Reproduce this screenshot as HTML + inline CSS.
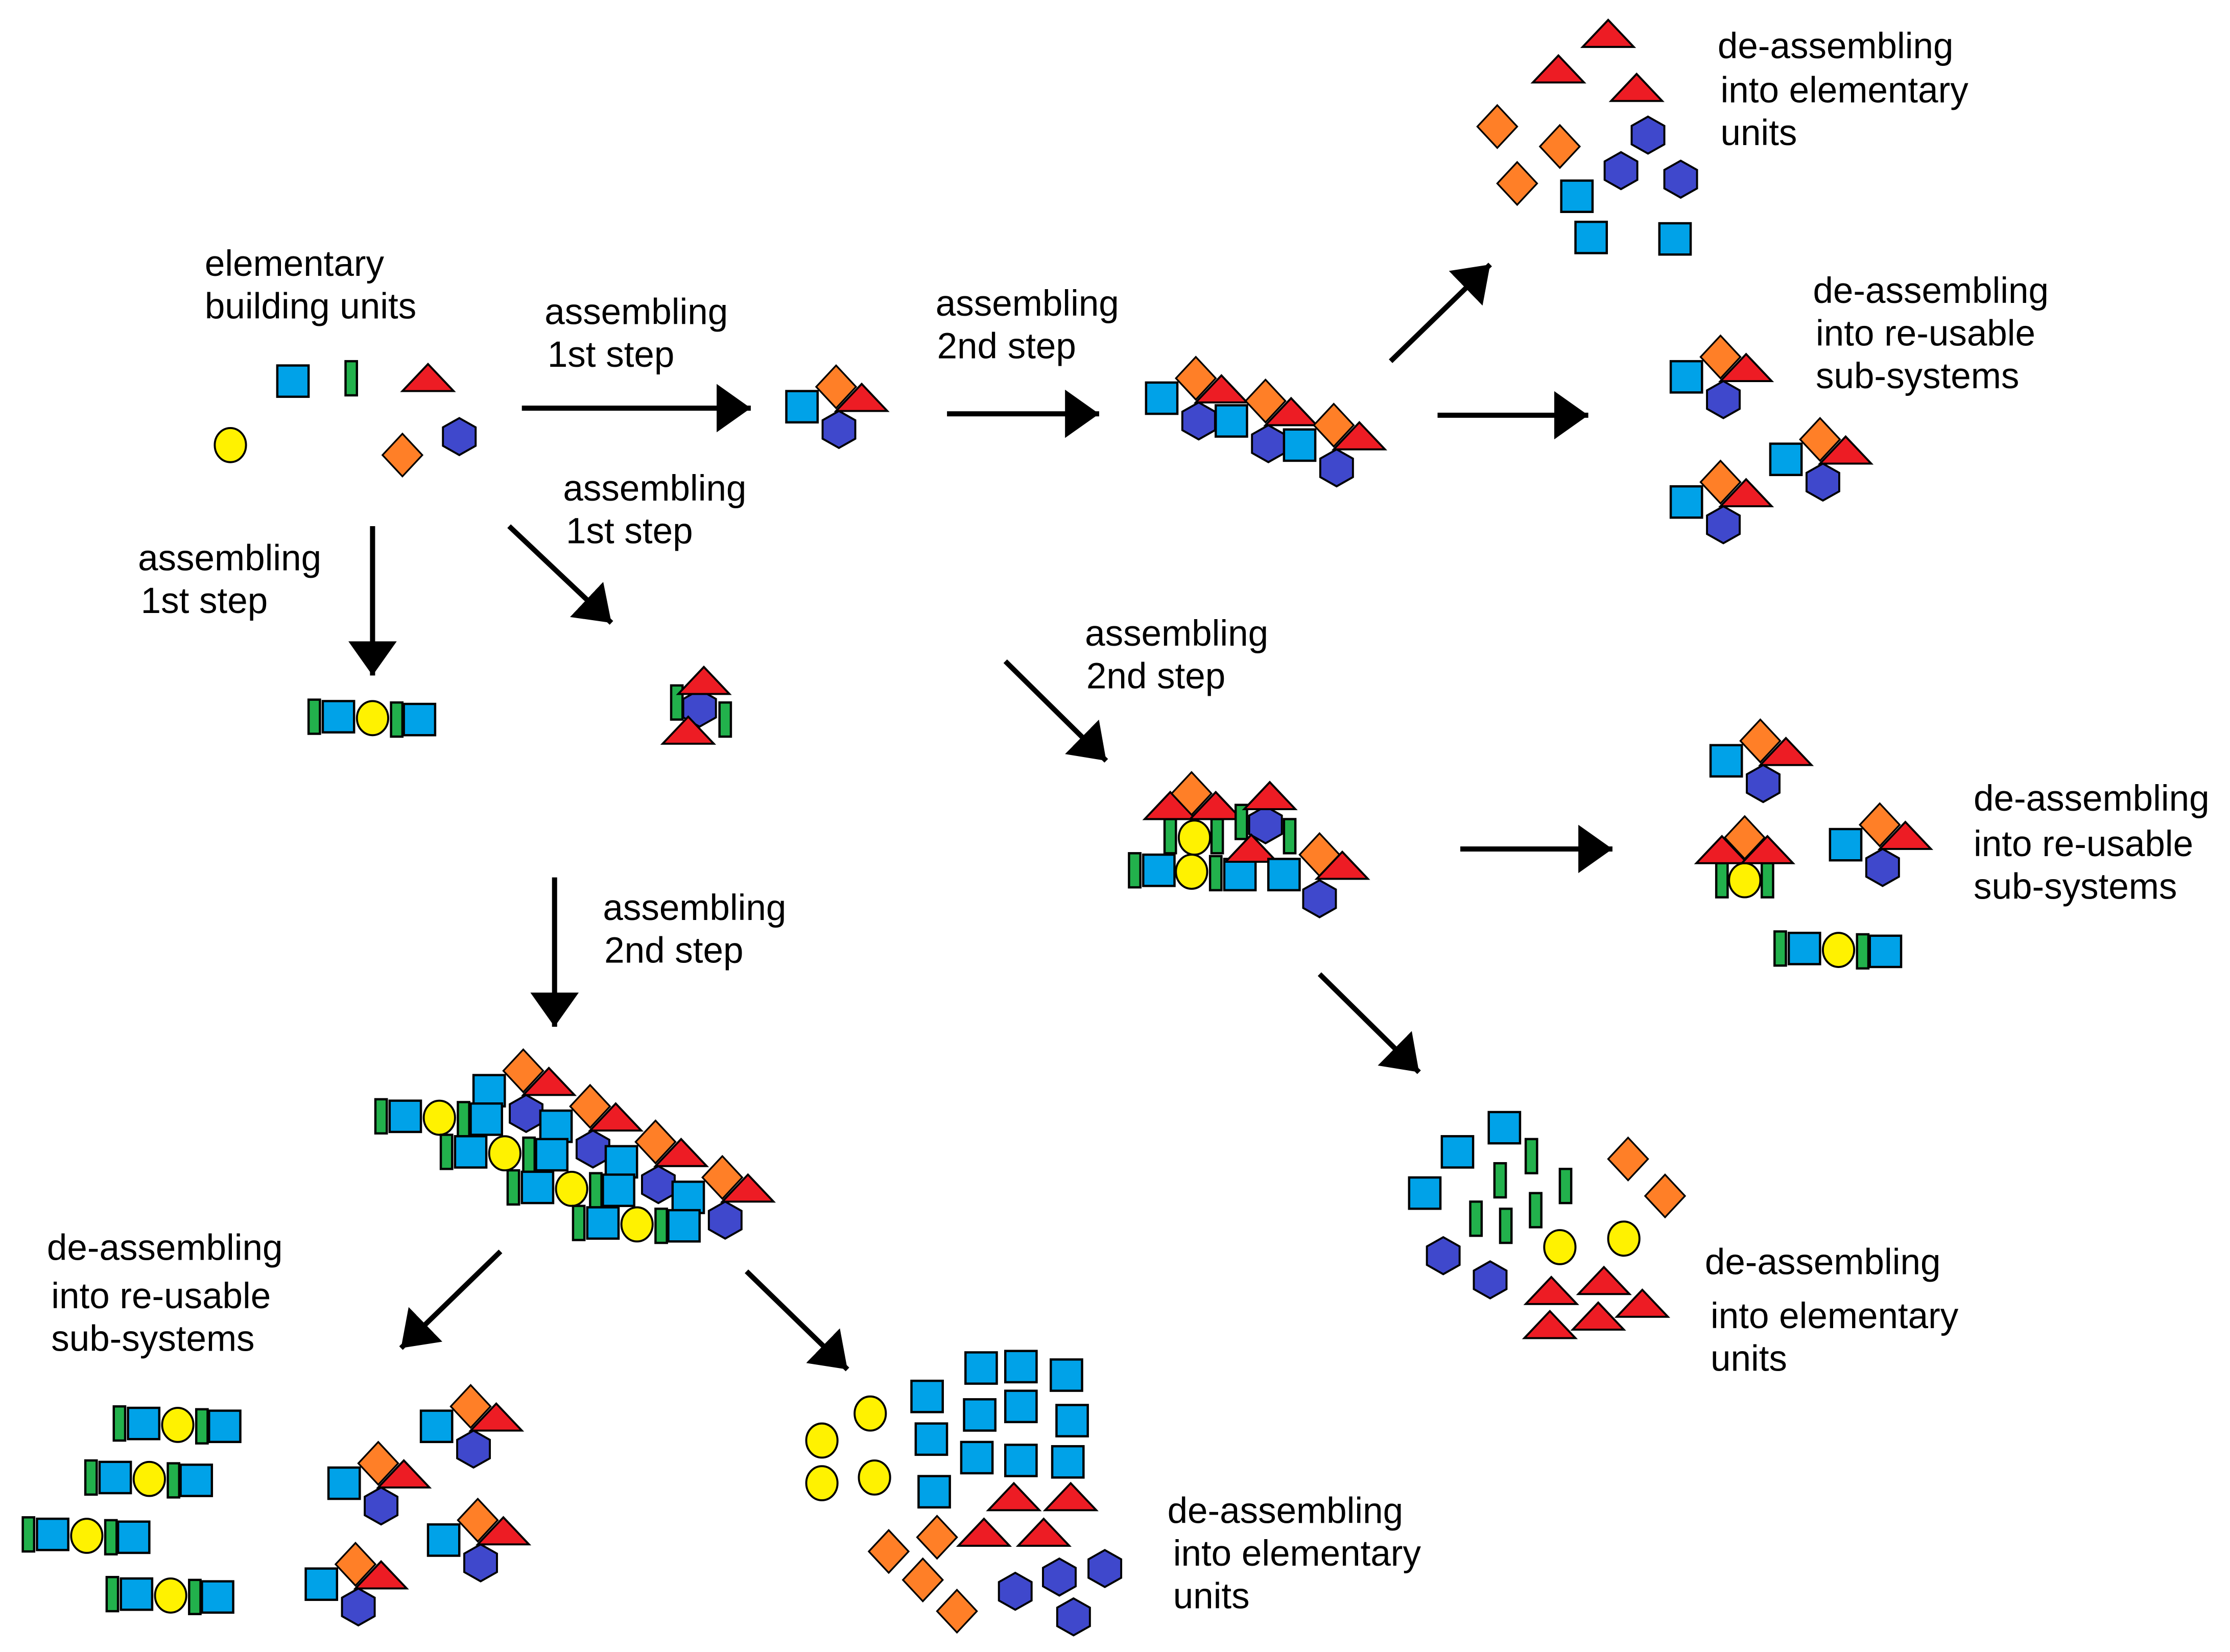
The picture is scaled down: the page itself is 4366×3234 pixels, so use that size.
<!DOCTYPE html>
<html><head><meta charset="utf-8"><style>
html,body{margin:0;padding:0;background:#fff;}
svg{display:block;}
text{font-family:"Liberation Sans",Arial,sans-serif;font-size:25.5px;fill:#000;}
</style></head><body>
<svg width="4366" height="3234" viewBox="0 0 1568.3 1161.7" xmlns="http://www.w3.org/2000/svg">
<defs>
<g id="sq"><rect x="-11" y="-11" width="22" height="22" fill="#00a2e8" stroke="#000" stroke-width="1.6"/></g>
<g id="bar"><rect x="-4" y="-12" width="8" height="24" fill="#22b14c" stroke="#000" stroke-width="1.6"/></g>
<g id="tri"><polygon points="-18,9 18,9 0,-10" fill="#ed1c24" stroke="#000" stroke-width="1.4"/></g>
<g id="dia"><polygon points="0,-15 14,0 0,15 -14,0" fill="#ff7f27" stroke="#000" stroke-width="1.2"/></g>
<g id="hex"><polygon points="0,-13 11.5,-6.5 11.5,6.5 0,13 -11.5,6.5 -11.5,-6.5" fill="#3f48cc" stroke="#000" stroke-width="1.4"/></g>
<g id="circ"><ellipse cx="0" cy="0" rx="11" ry="12" fill="#fff200" stroke="#000" stroke-width="1.4"/></g>
<g id="A"><use href="#sq" x="-24" y="14"/><use href="#hex" x="2" y="30"/><use href="#dia" x="0" y="0"/><use href="#tri" x="18" y="8"/></g>
<g id="B"><use href="#bar" x="-41" y="-1"/><use href="#sq" x="-24" y="-1"/><use href="#circ" x="0" y="0"/><use href="#bar" x="17" y="1"/><use href="#sq" x="33" y="1"/></g>
<marker id="ah" markerUnits="userSpaceOnUse" markerWidth="30" markerHeight="40" refX="24" refY="17" orient="auto"><path d="M0,0 L24,17 L0,34 Z" fill="#000"/></marker>
</defs>

<g stroke="#000" stroke-width="3.6" fill="none" marker-end="url(#ah)">
<line x1="367" y1="287" x2="528" y2="287"/>
<line x1="262" y1="370" x2="262" y2="475"/>
<line x1="358" y1="370" x2="430" y2="438"/>
<line x1="666" y1="291" x2="773" y2="291"/>
<line x1="978" y1="254" x2="1048" y2="186"/>
<line x1="1011" y1="292" x2="1117" y2="292"/>
<line x1="707" y1="465" x2="778" y2="535"/>
<line x1="1027" y1="597" x2="1134" y2="597"/>
<line x1="928" y1="685" x2="998" y2="754"/>
<line x1="390" y1="617" x2="390" y2="722"/>
<line x1="352" y1="880" x2="282" y2="948"/>
<line x1="525" y1="894" x2="596" y2="963"/>
</g>

<text x="144" y="194">elementary</text><text x="144" y="224">building units</text>
<text x="383" y="228">assembling</text><text x="385" y="258">1st step</text>
<text x="396" y="352">assembling</text><text x="398" y="382">1st step</text>
<text x="97" y="401">assembling</text><text x="99" y="431">1st step</text>
<text x="658" y="222">assembling</text><text x="659" y="252">2nd step</text>
<text x="763" y="454">assembling</text><text x="764" y="484">2nd step</text>
<text x="424" y="647">assembling</text><text x="425" y="677">2nd step</text>
<text x="1208" y="41">de-assembling</text><text x="1210" y="72">into elementary</text><text x="1210" y="102">units</text>
<text x="1275" y="213">de-assembling</text><text x="1277" y="243">into re-usable</text><text x="1277" y="273">sub-systems</text>
<text x="1388" y="570">de-assembling</text><text x="1388" y="602">into re-usable</text><text x="1388" y="632">sub-systems</text>
<text x="1199" y="896">de-assembling</text><text x="1203" y="934">into elementary</text><text x="1203" y="964">units</text>
<text x="821" y="1071">de-assembling</text><text x="825" y="1101">into elementary</text><text x="825" y="1131">units</text>
<text x="33" y="886">de-assembling</text><text x="36" y="920">into re-usable</text><text x="36" y="950">sub-systems</text>

<use href="#sq" x="206" y="268"/><use href="#bar" x="247" y="266"/><use href="#tri" x="301" y="266"/>
<use href="#circ" x="162" y="313"/><use href="#dia" x="283" y="320"/><use href="#hex" x="323" y="307"/>

<use href="#A" x="588" y="272"/>
<use href="#B" x="262" y="505"/>
<g>
<use href="#bar" x="476" y="494"/><use href="#bar" x="510" y="506"/>
<use href="#hex" x="492" y="498"/><use href="#tri" x="495" y="479"/><use href="#tri" x="484" y="514"/>
</g>

<use href="#A" x="841" y="266"/><use href="#A" x="890" y="282"/><use href="#A" x="938" y="299"/>

<use href="#tri" x="1131" y="24"/><use href="#tri" x="1096" y="49"/><use href="#tri" x="1151" y="62"/>
<use href="#dia" x="1053" y="89"/><use href="#dia" x="1097" y="103"/><use href="#dia" x="1067" y="129"/>
<use href="#hex" x="1159" y="95"/><use href="#hex" x="1140" y="120"/><use href="#hex" x="1182" y="126"/>
<use href="#sq" x="1109" y="138"/><use href="#sq" x="1119" y="167"/><use href="#sq" x="1178" y="168"/>

<use href="#A" x="1210" y="251"/><use href="#A" x="1280" y="309"/><use href="#A" x="1210" y="339"/>

<g>
<use href="#bar" x="823" y="588"/><use href="#bar" x="856" y="588"/>
<use href="#circ" x="840" y="589"/>
<use href="#tri" x="823" y="567"/><use href="#tri" x="855" y="567"/><use href="#dia" x="838" y="558"/>
<use href="#bar" x="873" y="578"/><use href="#hex" x="890" y="580"/><use href="#bar" x="907" y="588"/><use href="#tri" x="893" y="560"/>
<use href="#bar" x="798" y="612"/><use href="#sq" x="815" y="612"/><use href="#circ" x="838" y="613"/><use href="#bar" x="855" y="614"/><use href="#sq" x="872" y="615"/>
<use href="#tri" x="880" y="597"/>
<use href="#sq" x="903" y="615"/>
<use href="#hex" x="928" y="632"/><use href="#dia" x="928" y="601"/><use href="#tri" x="944" y="609"/>
</g>

<use href="#A" x="1238" y="521"/><use href="#A" x="1322" y="580"/>
<g>
<use href="#bar" x="1211" y="619"/><use href="#bar" x="1243" y="619"/><use href="#circ" x="1227" y="619"/>
<use href="#tri" x="1211" y="598"/><use href="#tri" x="1243" y="598"/><use href="#dia" x="1227" y="589"/>
</g>
<use href="#B" x="1293" y="668"/>

<use href="#sq" x="1025" y="810"/><use href="#sq" x="1058" y="793"/><use href="#sq" x="1002" y="839"/>
<use href="#bar" x="1077" y="813"/><use href="#bar" x="1055" y="830"/><use href="#bar" x="1101" y="834"/>
<use href="#bar" x="1038" y="857"/><use href="#bar" x="1080" y="851"/><use href="#bar" x="1059" y="862"/>
<use href="#dia" x="1145" y="815"/><use href="#dia" x="1171" y="841"/>
<use href="#circ" x="1097" y="877"/><use href="#circ" x="1142" y="871"/>
<use href="#hex" x="1015" y="883"/><use href="#hex" x="1048" y="900"/>
<use href="#tri" x="1091" y="908"/><use href="#tri" x="1128" y="901"/><use href="#tri" x="1155" y="917"/><use href="#tri" x="1090" y="932"/><use href="#tri" x="1124" y="926"/>

<g>
<use href="#A" x="368" y="753"/>
<use href="#B" x="309" y="786"/>
<use href="#A" x="415" y="778"/>
<use href="#B" x="355" y="811"/>
<use href="#A" x="461" y="803"/>
<use href="#B" x="402" y="836"/>
<use href="#A" x="508" y="828"/>
<use href="#B" x="448" y="861"/>
</g>

<use href="#B" x="125" y="1002"/><use href="#B" x="105" y="1040"/><use href="#B" x="61" y="1080"/><use href="#B" x="120" y="1122"/>
<use href="#A" x="331" y="989"/><use href="#A" x="266" y="1029"/><use href="#A" x="336" y="1069"/><use href="#A" x="250" y="1100"/>

<use href="#circ" x="612" y="994"/><use href="#circ" x="578" y="1013"/><use href="#circ" x="578" y="1043"/><use href="#circ" x="615" y="1039"/>
<use href="#sq" x="690" y="962"/><use href="#sq" x="718" y="961"/><use href="#sq" x="750" y="967"/><use href="#sq" x="652" y="982"/>
<use href="#sq" x="689" y="995"/><use href="#sq" x="718" y="989"/><use href="#sq" x="754" y="999"/><use href="#sq" x="655" y="1012"/>
<use href="#sq" x="687" y="1025"/><use href="#sq" x="718" y="1027"/><use href="#sq" x="751" y="1028"/><use href="#sq" x="657" y="1049"/>
<use href="#tri" x="713" y="1053"/><use href="#tri" x="753" y="1053"/><use href="#tri" x="692" y="1078"/><use href="#tri" x="734" y="1078"/>
<use href="#dia" x="625" y="1091"/><use href="#dia" x="659" y="1081"/><use href="#dia" x="649" y="1111"/><use href="#dia" x="673" y="1133"/>
<use href="#hex" x="714" y="1119"/><use href="#hex" x="745" y="1109"/><use href="#hex" x="777" y="1103"/><use href="#hex" x="755" y="1137"/>
</svg>
</body></html>
